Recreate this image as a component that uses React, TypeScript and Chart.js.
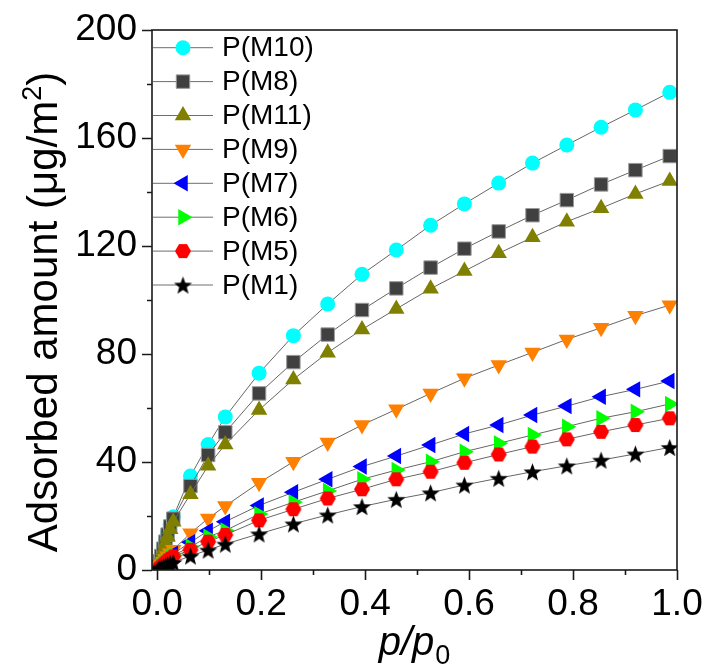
import React, { useEffect, useRef } from 'react';
import { Chart, registerables } from 'chart.js';

Chart.register(...registerables);

const FONT = '"Liberation Sans", Arial, Helvetica, sans-serif';

const seriesLabels = ['P(M10)', 'P(M8)', 'P(M11)', 'P(M9)', 'P(M7)', 'P(M6)', 'P(M5)', 'P(M1)'];

const pressure = [
  0.002, 0.005, 0.008, 0.012, 0.016, 0.020, 0.025, 0.031,
  0.064, 0.098, 0.131, 0.196, 0.262, 0.328, 0.394, 0.460,
  0.526, 0.591, 0.657, 0.722, 0.788, 0.854, 0.920, 0.986,
];

const m10 = [
  1.5, 3.5, 5.5, 8.3, 11.0, 13.7, 16.8, 19.7,
  34.8, 46.5, 56.7, 72.9, 86.8, 98.5, 109.5, 118.5,
  127.7, 135.6, 143.3, 150.7, 157.4, 164.0, 170.4, 176.9,
];
const m8 = [
  1.4, 3.3, 5.2, 7.9, 10.5, 13.1, 16.1, 19.0,
  31.1, 42.6, 51.0, 65.4, 77.0, 87.2, 96.3, 104.3,
  112.0, 119.0, 125.4, 131.4, 137.0, 142.8, 148.1, 153.3,
];
const m11 = [
  1.3, 3.1, 4.9, 7.4, 9.9, 12.3, 15.1, 17.9,
  28.1, 38.6, 46.5, 59.3, 70.6, 80.5, 89.1, 96.7,
  104.2, 110.7, 117.3, 123.2, 129.0, 134.0, 139.3, 144.1,
];
const m9 = [
  0.5, 1.3, 2.1, 3.1, 4.1, 5.1, 6.2, 7.5,
  13.6, 19.1, 23.7, 32.3, 40.1, 47.2, 53.7, 59.5,
  65.4, 71.0, 75.9, 80.6, 85.4, 89.7, 94.2, 98.1,
];
const m7 = [
  0.4, 1.0, 1.7, 2.5, 3.3, 4.1, 5.0, 6.0,
  10.3, 14.5, 17.9, 23.9, 28.8, 33.6, 38.3, 42.2,
  46.3, 50.4, 53.7, 57.4, 60.7, 64.2, 66.9, 70.0,
];
const m6 = [
  0.4, 0.9, 1.5, 2.2, 3.0, 3.7, 4.5, 5.4,
  8.6, 12.3, 14.6, 20.7, 25.1, 29.3, 33.6, 37.0,
  40.1, 43.8, 46.9, 50.0, 53.1, 56.2, 58.6, 61.5,
];
const m5 = [
  0.35, 0.85, 1.4, 2.1, 2.8, 3.5, 4.2, 5.0,
  7.5, 10.5, 13.0, 18.4, 22.5, 26.5, 29.9, 33.6,
  36.4, 39.7, 42.8, 45.7, 48.4, 51.2, 53.7, 56.2,
];
const m1 = [
  0.2, 0.5, 0.8, 1.2, 1.6, 2.0, 2.4, 2.8,
  5.2, 7.4, 9.6, 13.4, 17.1, 20.4, 23.5, 26.2,
  28.6, 31.5, 34.0, 36.4, 38.6, 40.7, 43.0, 45.4,
];

const seriesValues = [m10, m8, m11, m9, m7, m6, m5, m1];

const xTickValues = [0, 0.2, 0.4, 0.6, 0.8, 1.0];
const xMinorTickValues = [0.1, 0.3, 0.5, 0.7, 0.9];
const yTickValues = [0, 40, 80, 120, 160, 200];
const yMinorTickValues = [20, 60, 100, 140, 180];

type MarkerDef = {
  color: string;
  kind: 'circle' | 'rect' | 'triangle' | 'hexagon' | 'star';
  rotation: number;
  radius: number;
  border?: string;
};

const markerStyles: MarkerDef[] = [
  { color: '#00FFFF', kind: 'circle', rotation: 0, radius: 7.5 },
  { color: '#404040', kind: 'rect', rotation: 0, radius: 9.5, border: '#9a9a9a' },
  { color: '#808000', kind: 'triangle', rotation: 0, radius: 9.5 },
  { color: '#FF8000', kind: 'triangle', rotation: 180, radius: 9.5 },
  { color: '#0000FF', kind: 'triangle', rotation: 270, radius: 9.5 },
  { color: '#00FF00', kind: 'triangle', rotation: 90, radius: 9.5 },
  { color: '#FF0000', kind: 'hexagon', rotation: 0, radius: 8 },
  { color: '#000000', kind: 'star', rotation: 0, radius: 9.5 },
];

function makeHexagon(color: string, r: number): HTMLCanvasElement {
  const size = Math.ceil(2 * r + 2);
  const c = document.createElement('canvas');
  c.width = size;
  c.height = size;
  const g = c.getContext('2d')!;
  g.fillStyle = color;
  g.beginPath();
  for (let k = 0; k < 6; k++) {
    const a = (Math.PI / 3) * k;
    const px = size / 2 + r * Math.cos(a);
    const py = size / 2 + r * Math.sin(a);
    if (k === 0) g.moveTo(px, py);
    else g.lineTo(px, py);
  }
  g.closePath();
  g.fill();
  return c;
}

function makeStar(color: string, R: number): HTMLCanvasElement {
  const size = Math.ceil(2 * R + 2);
  const c = document.createElement('canvas');
  c.width = size;
  c.height = size;
  const g = c.getContext('2d')!;
  const rIn = R * 0.42;
  g.fillStyle = color;
  g.beginPath();
  for (let k = 0; k < 10; k++) {
    const a = -Math.PI / 2 + (Math.PI / 5) * k;
    const rr = k % 2 === 0 ? R : rIn;
    const px = size / 2 + rr * Math.cos(a);
    const py = size / 2 + 1 + rr * Math.sin(a);
    if (k === 0) g.moveTo(px, py);
    else g.lineTo(px, py);
  }
  g.closePath();
  g.fill();
  return c;
}

function drawMarker(ctx: CanvasRenderingContext2D, m: MarkerDef, img: HTMLCanvasElement | null, x: number, y: number) {
  ctx.save();
  if (img) {
    ctx.drawImage(img, x - img.width / 2, y - img.height / 2);
    ctx.restore();
    return;
  }
  ctx.fillStyle = m.color;
  ctx.beginPath();
  if (m.kind === 'circle') {
    ctx.arc(x, y, m.radius, 0, Math.PI * 2);
  } else if (m.kind === 'rect') {
    const s = Math.SQRT1_2 * m.radius;
    ctx.rect(x - s, y - s, 2 * s, 2 * s);
  } else {
    let rad = (m.rotation * Math.PI) / 180;
    for (let k = 0; k < 3; k++) {
      const px = x + Math.sin(rad) * m.radius;
      const py = y - Math.cos(rad) * m.radius;
      if (k === 0) ctx.moveTo(px, py);
      else ctx.lineTo(px, py);
      rad += (2 * Math.PI) / 3;
    }
    ctx.closePath();
  }
  ctx.fill();
  if (m.border) {
    ctx.strokeStyle = m.border;
    ctx.lineWidth = 1;
    ctx.stroke();
  }
  ctx.restore();
}

export default function App() {
  const canvasRef = useRef<HTMLCanvasElement | null>(null);

  useEffect(() => {
    const canvas = canvasRef.current;
    if (!canvas) return;

    const images: (HTMLCanvasElement | null)[] = markerStyles.map((m) => {
      if (m.kind === 'hexagon') return makeHexagon(m.color, m.radius);
      if (m.kind === 'star') return makeStar(m.color, m.radius);
      return null;
    });

    const decorPlugin = {
      id: 'decor',
      afterDatasetsDraw(chart: any) {
        const ctx: CanvasRenderingContext2D = chart.ctx;
        const a = chart.chartArea;
        const xs = chart.scales.x;
        const ys = chart.scales.y;
        ctx.save();

        // frame
        ctx.strokeStyle = '#1a1a1a';
        ctx.lineWidth = 1.6;
        ctx.strokeRect(a.left, a.top, a.right - a.left, a.bottom - a.top);

        // ticks
        ctx.beginPath();
        yTickValues.forEach((v) => {
          const py = Math.round(ys.getPixelForValue(v)) + 0.5;
          ctx.moveTo(a.left, py);
          ctx.lineTo(a.left - 10, py);
        });
        yMinorTickValues.forEach((v) => {
          const py = Math.round(ys.getPixelForValue(v)) + 0.5;
          ctx.moveTo(a.left, py);
          ctx.lineTo(a.left - 5, py);
        });
        xTickValues.forEach((v) => {
          const px = Math.round(xs.getPixelForValue(v)) + 0.5;
          ctx.moveTo(px, a.bottom);
          ctx.lineTo(px, a.bottom + 10);
        });
        xMinorTickValues.forEach((v) => {
          const px = Math.round(xs.getPixelForValue(v)) + 0.5;
          ctx.moveTo(px, a.bottom);
          ctx.lineTo(px, a.bottom + 5);
        });
        ctx.stroke();

        // legend
        const rowStart = a.top + 17.7;
        const rowStep = 33.9;
        ctx.font = `28px ${FONT}`;
        ctx.textAlign = 'left';
        ctx.textBaseline = 'middle';
        seriesLabels.forEach((label, i) => {
          const y = rowStart + i * rowStep;
          ctx.strokeStyle = '#6e6e6e';
          ctx.lineWidth = 1;
          ctx.beginPath();
          ctx.moveTo(a.left + 1, y);
          ctx.lineTo(a.left + 61, y);
          ctx.stroke();
          drawMarker(ctx, markerStyles[i], images[i], a.left + 31, y);
          ctx.fillStyle = '#000';
          ctx.fillText(label, a.left + 70, y + 1);
        });

        // y title with superscript
        ctx.save();
        ctx.translate(57, (a.top + a.bottom) / 2 + 12);
        ctx.rotate(-Math.PI / 2);
        ctx.fillStyle = '#000';
        ctx.textBaseline = 'alphabetic';
        ctx.textAlign = 'left';
        const mainFont = `42px ${FONT}`;
        const supFont = `27px ${FONT}`;
        const p1 = 'Adsorbed amount (\u03BCg/m';
        const p2 = '2';
        const p3 = ')';
        ctx.font = mainFont;
        const w1 = ctx.measureText(p1).width;
        const w3 = ctx.measureText(p3).width;
        ctx.font = supFont;
        const w2 = ctx.measureText(p2).width;
        const total = w1 + w2 + w3;
        let cx = -total / 2;
        ctx.font = mainFont;
        ctx.fillText(p1, cx, 0);
        cx += w1;
        ctx.font = supFont;
        ctx.fillText(p2, cx, -16);
        cx += w2;
        ctx.font = mainFont;
        ctx.fillText(p3, cx, 0);
        ctx.restore();

        // x title p/p0
        ctx.save();
        ctx.fillStyle = '#000';
        ctx.textBaseline = 'alphabetic';
        ctx.textAlign = 'left';
        const itFont = `italic 40px ${FONT}`;
        const subFont = `27px ${FONT}`;
        ctx.font = itFont;
        const tw = ctx.measureText('p/p').width;
        ctx.font = subFont;
        const sw = ctx.measureText('0').width;
        const startX = 414 - (tw + sw) / 2;
        ctx.font = itFont;
        ctx.fillText('p/p', startX, 655);
        ctx.font = subFont;
        ctx.fillText('0', startX + tw + 1, 664);
        ctx.restore();

        ctx.restore();
      },
    };

    const datasets = seriesValues.map((vals, i) => {
      const m = markerStyles[i];
      const img = images[i];
      return {
        label: seriesLabels[i],
        data: pressure.map((x, j) => ({ x, y: vals[j] })),
        showLine: true,
        borderColor: '#666666',
        borderWidth: 1,
        tension: 0,
        pointStyle: img ? img : m.kind,
        pointRotation: m.rotation,
        pointRadius: m.radius,
        pointHoverRadius: m.radius,
        pointBackgroundColor: m.color,
        pointBorderColor: m.border ? m.border : m.color,
        pointBorderWidth: m.border ? 1 : 0,
        order: 8 - i,
      };
    });

    const chart = new Chart(canvas, {
      type: 'scatter',
      data: { datasets },
      options: {
        responsive: false,
        animation: false,
        devicePixelRatio: 1,
        layout: { padding: { left: 0, top: 30, right: 28, bottom: 0 } },
        plugins: {
          legend: { display: false },
          tooltip: { enabled: false },
        },
        scales: {
          x: {
            type: 'linear',
            min: -0.01,
            max: 1.0,
            afterBuildTicks: (s: any) => {
              s.ticks = xTickValues.map((v) => ({ value: v }));
            },
            afterFit: (s: any) => {
              s.height = 98;
              s.paddingLeft = 0;
              s.paddingRight = 0;
            },
            grid: { display: false, drawTicks: false },
            border: { display: false },
            ticks: {
              color: '#000',
              font: { family: FONT, size: 37 },
              padding: 13,
              maxRotation: 0,
              autoSkip: false,
              callback: (v: any) => Number(v).toFixed(1),
            },
          },
          y: {
            type: 'linear',
            min: 0,
            max: 200,
            afterBuildTicks: (s: any) => {
              s.ticks = yTickValues.map((v) => ({ value: v }));
            },
            afterFit: (s: any) => {
              s.width = 152;
              s.paddingTop = 0;
              s.paddingBottom = 0;
            },
            grid: { display: false, drawTicks: false },
            border: { display: false },
            ticks: {
              color: '#000',
              font: { family: FONT, size: 37 },
              padding: 15,
              autoSkip: false,
              callback: (v: any) => String(v),
            },
          },
        },
      },
      plugins: [decorPlugin],
    });

    return () => {
      chart.destroy();
    };
  }, []);

  return (
    <div style={{ position: 'absolute', left: 0, top: 0, width: 705, height: 668, background: '#fff' }}>
      <canvas ref={canvasRef} width={705} height={668} style={{ display: 'block', width: 705, height: 668 }} />
    </div>
  );
}
